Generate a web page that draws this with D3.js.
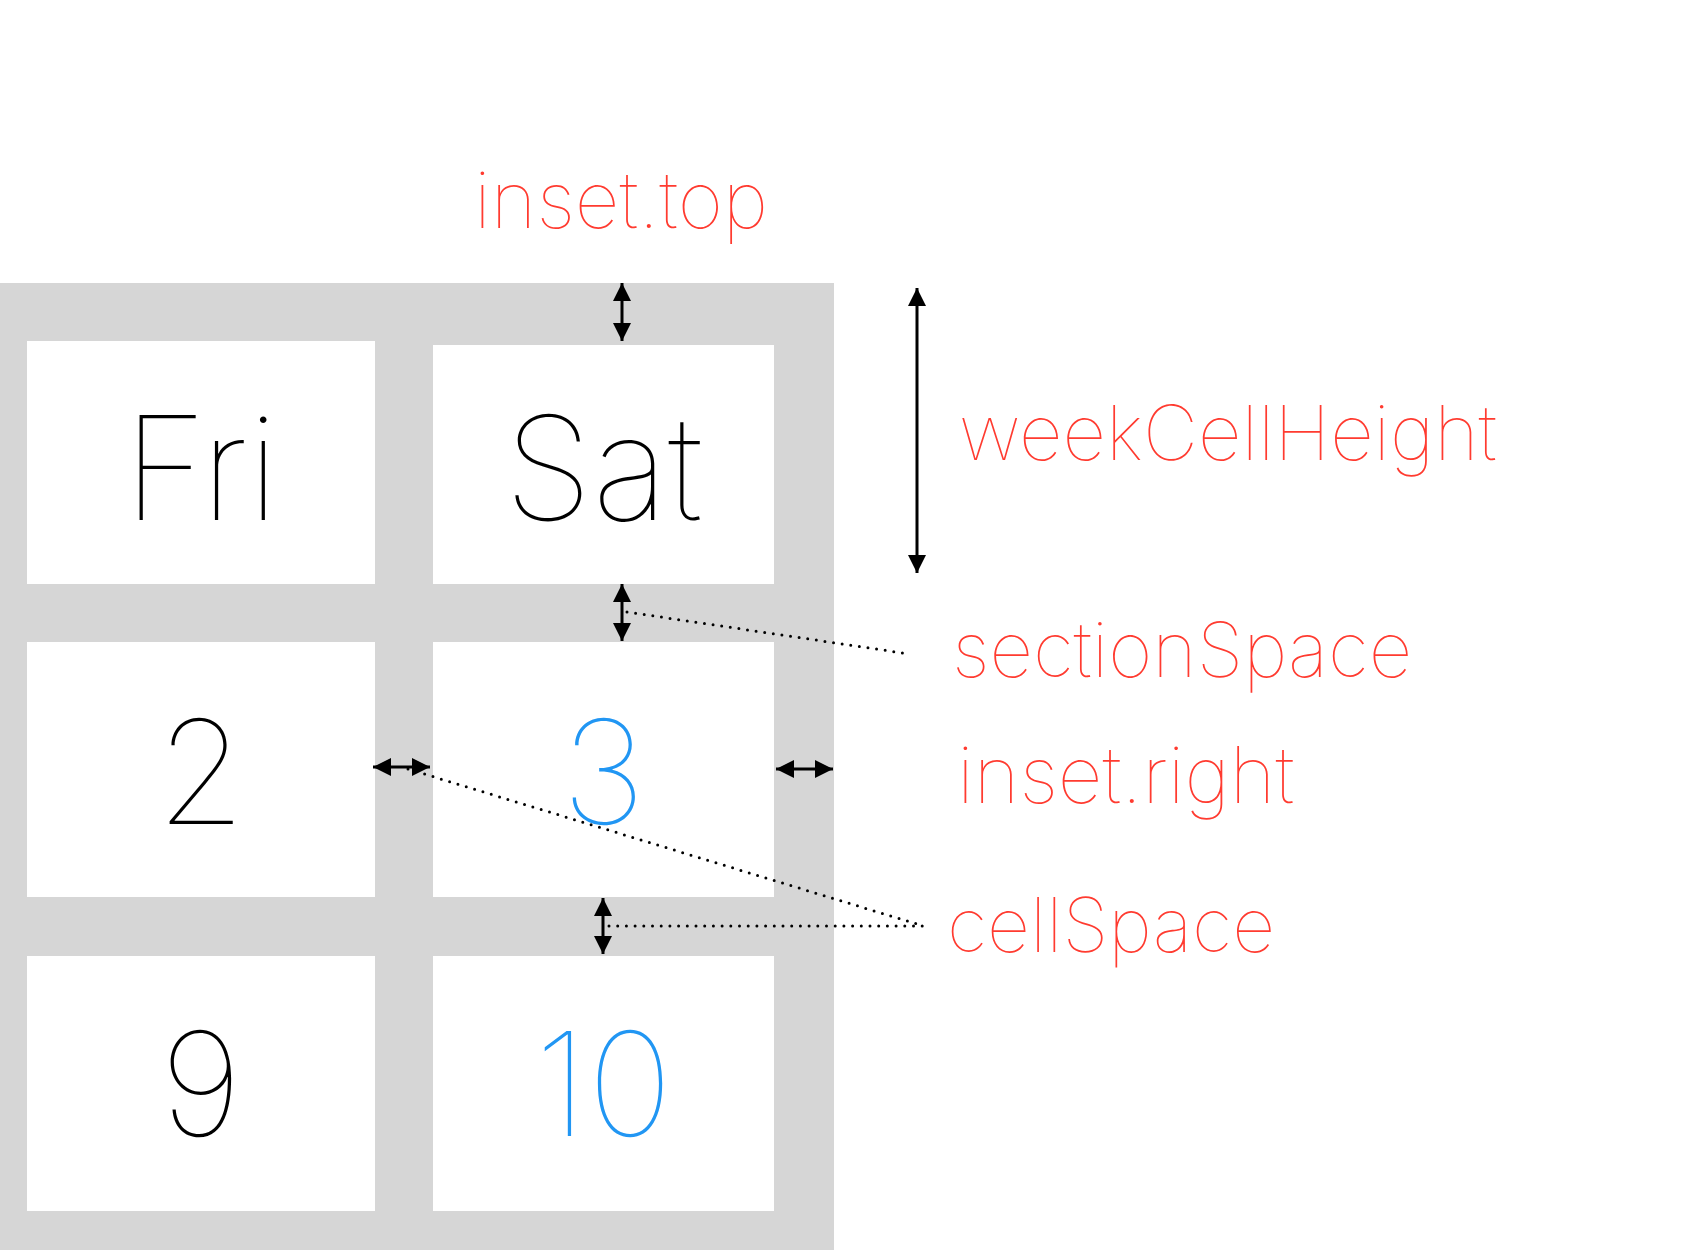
<!DOCTYPE html>
<html><head><meta charset="utf-8">
<script src="https://cdn.jsdelivr.net/npm/d3@7"></script>
<style>
  body { margin: 0; background: #fff; }
  text { font-family: Inter, Roboto, sans-serif; font-weight: 100; }
</style>
</head><body>
<svg id="chart" width="1682" height="1250"></svg>
<script>
// cell contents
const dayNames = ["Fri", "Sat"];
const weekDates = [[2, 3], [9, 10]];
const weekendCol = [false, true];

// annotation labels
const labels = ["inset.top", "weekCellHeight", "sectionSpace", "inset.right", "cellSpace"];

// layout (px)
const colEdges = [[27, 375], [433, 774]];
const rowEdges = [[341, 584], [642, 897], [956, 1211]];
const bgBox = { x0: 0, x1: 834, y0: 283, y1: 1250 };

var svg = d3.select("#chart");

var defs = svg.append("defs");
defs.append("marker")
    .attr("id", "head")
    .attr("viewBox", "0 0 10 10")
    .attr("refX", 10).attr("refY", 5)
    .attr("markerUnits", "userSpaceOnUse")
    .attr("markerWidth", 18).attr("markerHeight", 19)
    .attr("orient", "auto-start-reverse")
    .append("path").attr("d", "M0,0 L10,5 L0,10 Z").attr("fill", "#000");

// gray background panel
svg.append("rect")
    .attr("x", bgBox.x0).attr("y", bgBox.y0)
    .attr("width", bgBox.x1 - bgBox.x0).attr("height", bgBox.y1 - bgBox.y0)
    .attr("fill", "#d6d6d6");

// cells: header row + date rows
var cells = [];
dayNames.forEach((d, c) => cells.push({ row: 0, col: c, text: d, color: "#000" }));
weekDates.forEach((w, r) => w.forEach((d, c) => cells.push({
    row: r + 1, col: c, text: String(d), color: weekendCol[c] ? "#2196f3" : "#000"
})));

var baselines = [520, 824, 1136];

svg.selectAll(".cell")
    .data(cells)
    .enter().append("rect")
    .attr("class", "cell")
    .attr("x", d => colEdges[d.col][0])
    .attr("y", d => (d.row === 0 && d.col === 1) ? rowEdges[0][0] + 4 : rowEdges[d.row][0])
    .attr("width", d => colEdges[d.col][1] - colEdges[d.col][0])
    .attr("height", d => (d.row === 0 && d.col === 1) ? rowEdges[0][1] - rowEdges[0][0] - 4 : rowEdges[d.row][1] - rowEdges[d.row][0])
    .attr("fill", "#fff");

svg.selectAll(".celltext")
    .data(cells)
    .enter().append("text")
    .attr("class", "celltext")
    .attr("x", d => (colEdges[d.col][0] + colEdges[d.col][1]) / 2)
    .attr("y", d => baselines[d.row])
    .attr("text-anchor", "middle")
    .style("font-size", "144px")
    .attr("fill", d => d.color)
    .text(d => d.text);

// arrows
var arrows = [
    [622, 283, 622, 341],
    [917, 288, 917, 573],
    [622, 584, 622, 641],
    [776, 769, 833, 769],
    [373, 767, 430, 767],
    [603, 898, 603, 954]
];
svg.selectAll(".arrow")
    .data(arrows)
    .enter().append("line")
    .attr("class", "arrow")
    .attr("x1", d => d[0]).attr("y1", d => d[1])
    .attr("x2", d => d[2]).attr("y2", d => d[3])
    .attr("stroke", "#000")
    .attr("stroke-width", 3)
    .attr("marker-start", "url(#head)")
    .attr("marker-end", "url(#head)");

// dotted leader lines
var leaders = [
    [627, 612, 903, 653],
    [408, 769, 917, 924],
    [609, 926, 925, 926]
];
svg.selectAll(".leader")
    .data(leaders)
    .enter().append("line")
    .attr("class", "leader")
    .attr("x1", d => d[0]).attr("y1", d => d[1])
    .attr("x2", d => d[2]).attr("y2", d => d[3])
    .attr("stroke", "#000")
    .attr("stroke-width", 3)
    .attr("stroke-linecap", "round")
    .attr("stroke-dasharray", "0 8.7");

// red labels
var labelPos = [[474, 228], [959, 460], [952, 677], [957, 803], [947, 952]];
var labelSize = [78, 76, 76, 78, 75];
svg.selectAll(".label")
    .data(labels)
    .enter().append("text")
    .attr("class", "label")
    .attr("x", (d, i) => labelPos[i][0])
    .attr("y", (d, i) => labelPos[i][1])
    .style("font-size", (d, i) => labelSize[i] + "px")
    .attr("fill", "#ff3b30")
    .text(d => d);
</script></body></html>
